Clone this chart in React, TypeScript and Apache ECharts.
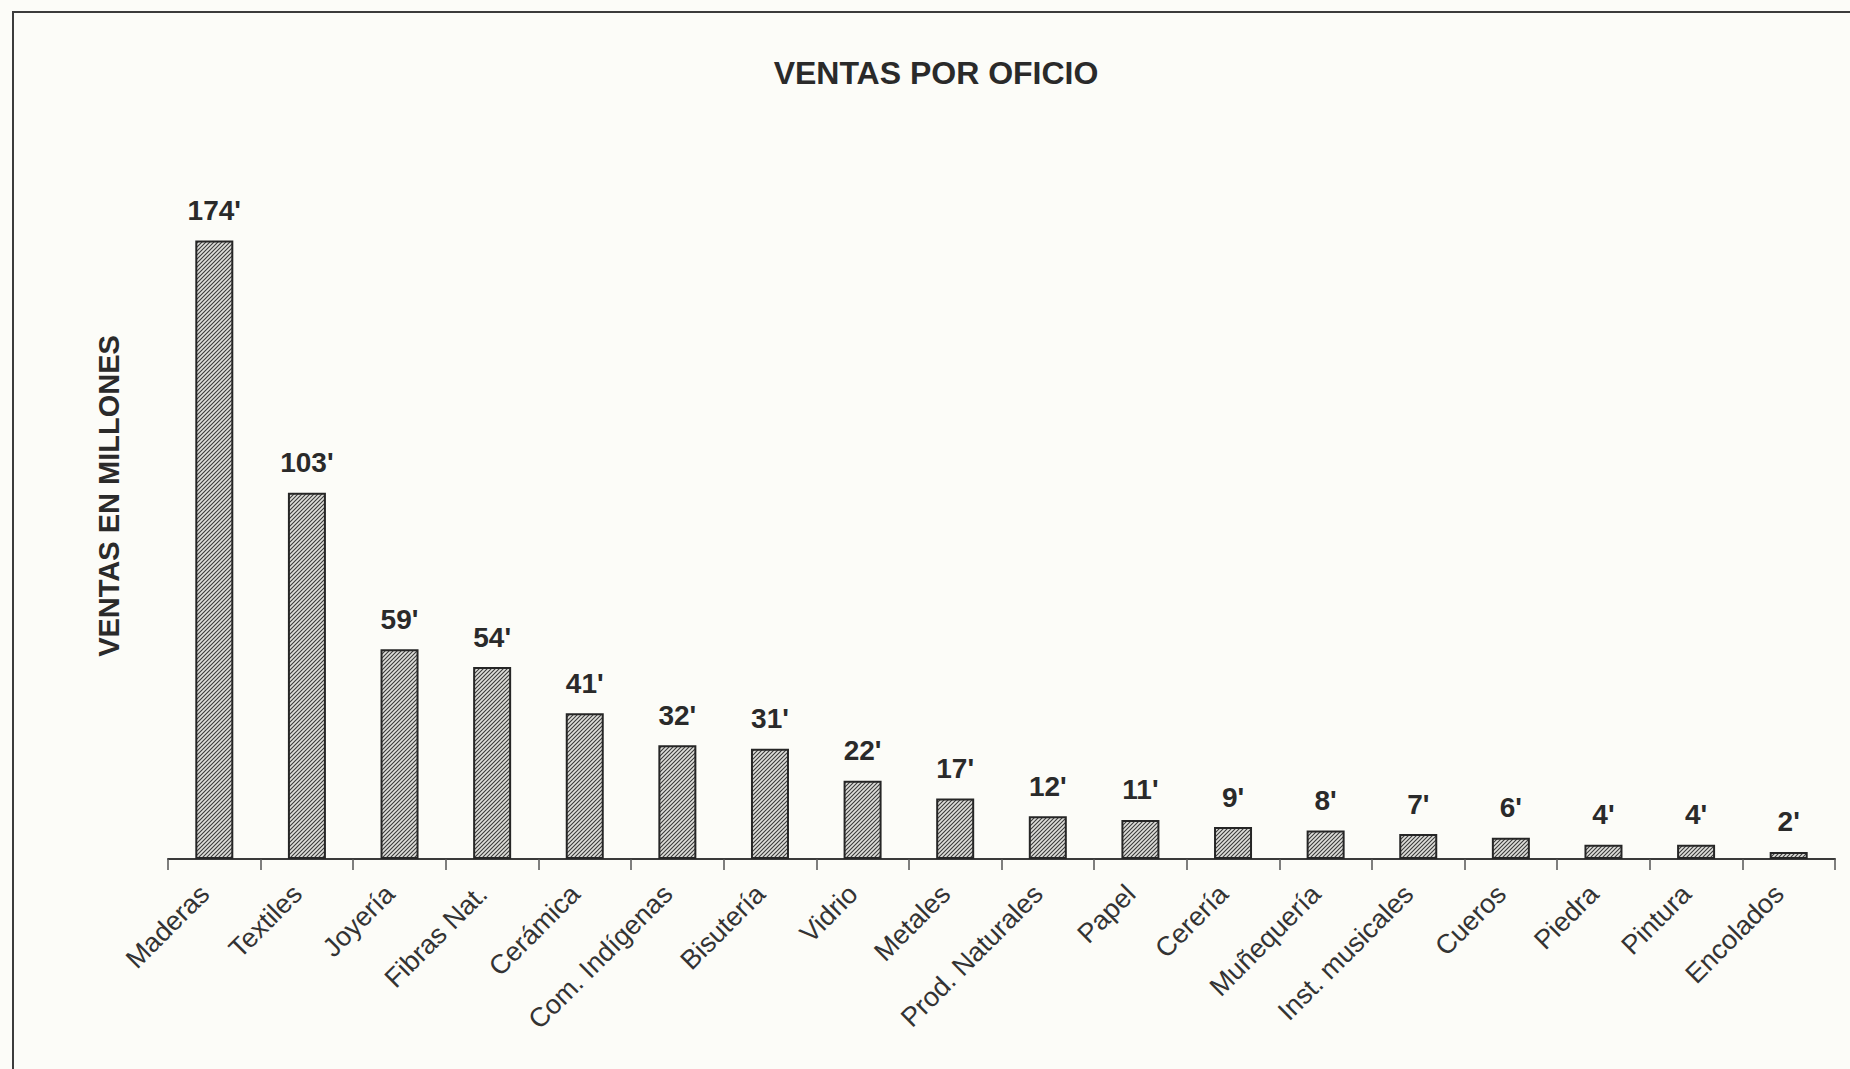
import React, { useEffect, useRef } from "react";
import * as echarts from "echarts";

const categories = [
  "Maderas", "Textiles", "Joyería", "Fibras Nat.", "Cerámica", "Com. Indígenas",
  "Bisutería", "Vidrio", "Metales", "Prod. Naturales", "Papel", "Cerería",
  "Muñequería", "Inst. musicales", "Cueros", "Piedra", "Pintura", "Encolados",
];
const ventas = [174, 103, 59, 54, 41, 32, 31, 22, 17, 12, 11, 9, 8, 7, 6, 4, 4, 2];
const titleText = "VENTAS POR OFICIO";
const yAxisTitle = "VENTAS EN MILLONES";

const hatchSvg =
  "<svg xmlns='http://www.w3.org/2000/svg' width='4' height='4'>" +
  "<rect width='4' height='4' fill='#dededa'/>" +
  "<path d='M-1,1 L1,-1 M0,4 L4,0 M3,5 L5,3' stroke='#3a3a3a' stroke-width='1.1'/></svg>";
const hatchUrl = "data:image/svg+xml;charset=utf-8," + encodeURIComponent(hatchSvg);

export default function App() {
  const ref = useRef<HTMLDivElement>(null);
  useEffect(() => {
    document.body.style.margin = "0";
    const chart = echarts.init(ref.current!, null, { renderer: "svg" });
    const font = "'Liberation Sans', Arial, Helvetica, sans-serif";
    chart.setOption({
      animation: false,
      backgroundColor: "#fcfcf8",
      textStyle: { fontFamily: font },
      title: {
        text: titleText,
        left: 931,
        top: 52,
        textAlign: "center",
        textStyle: { fontFamily: font, fontSize: 32, fontWeight: "bold", color: "#2a2a2a" },
      },
      graphic: [
        {
          type: "rect",
          shape: { x: 13, y: 12, width: 1900, height: 1100 },
          style: { fill: "none", stroke: "#3c3c3c", lineWidth: 2 },
          silent: true,
        },
        {
          type: "text",
          x: 109,
          y: 496,
          rotation: Math.PI / 2,
          style: {
            text: yAxisTitle,
            fontFamily: font,
            fontSize: 29,
            fontWeight: "bold",
            fill: "#2a2a2a",
            align: "center",
            verticalAlign: "middle",
          },
        },
      ],
      grid: { left: 168, right: 15, top: 148, bottom: 210, containLabel: false },
      xAxis: {
        type: "category",
        data: categories,
        boundaryGap: true,
        axisLine: { show: true, lineStyle: { color: "#3a3a3a", width: 2 } },
        axisTick: { show: true, length: 11, alignWithLabel: false, lineStyle: { color: "#555", width: 1.5 } },
        axisLabel: {
          rotate: 45,
          interval: 0,
          margin: 40,
          verticalAlign: "bottom",
          fontFamily: font,
          fontSize: 27,
          color: "#333",
        },
      },
      yAxis: {
        type: "value",
        min: 0,
        max: 200,
        interval: 50,
        axisLine: { show: false },
        axisTick: { show: false },
        axisLabel: { show: false },
        splitLine: { show: false },
      },
      series: [
        {
          type: "bar",
          data: ventas,
          barWidth: 38,
          itemStyle: {
            color: {
              image: hatchUrl,
              repeat: "repeat",
              imageWidth: 4,
              imageHeight: 4,
            } as any,
            borderColor: "#262626",
            borderWidth: 2,
          },
          label: {
            show: true,
            position: "top",
            distance: 16,
            formatter: (p: any) => `${p.value}'`,
            fontFamily: font,
            fontSize: 28,
            fontWeight: "bold",
            color: "#2a2a2a",
          },
        },
      ],
    });
    return () => chart.dispose();
  }, []);
  return (
    <div
      ref={ref}
      style={{ position: "fixed", left: 0, top: 0, width: 1850, height: 1069 }}
    />
  );
}
